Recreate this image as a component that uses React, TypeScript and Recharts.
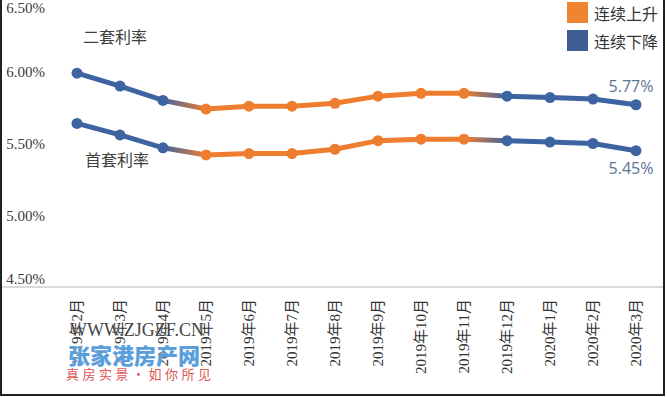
import React from 'react'
import { LineChart, Line, XAxis, YAxis, LabelList } from 'recharts'

const MONTHS = [
  '2019年2月', '2019年3月', '2019年4月', '2019年5月', '2019年6月', '2019年7月', '2019年8月',
  '2019年9月', '2019年10月', '2019年11月', '2019年12月', '2020年1月', '2020年2月', '2020年3月',
]
// 二套利率 (%)
const SECOND_RATE = [5.99, 5.9, 5.8, 5.74, 5.76, 5.76, 5.78, 5.83, 5.85, 5.85, 5.83, 5.82, 5.81, 5.77]
// 首套利率 (%)
const FIRST_RATE = [5.64, 5.56, 5.47, 5.42, 5.43, 5.43, 5.46, 5.52, 5.53, 5.53, 5.52, 5.51, 5.5, 5.45]
// which colour each month's point gets
const TREND = ['down', 'down', 'down', 'up', 'up', 'up', 'up', 'up', 'up', 'up', 'down', 'down', 'down', 'down']
const Y_TICKS = [4.5, 5, 5.5, 6, 6.5]

const LEGEND = [
  { key: 'up', label: '连续上升' },
  { key: 'down', label: '连续下降' },
]

const COLORS: Record<string, string> = { up: '#ee7d2f', down: '#3d64a0' }
const LEGEND_COLORS: Record<string, string> = { up: '#f0852f', down: '#3e5f94' }

const data = MONTHS.map((month, i) => ({
  month,
  second: SECOND_RATE[i],
  first: FIRST_RATE[i],
  trend: TREND[i],
}))

const W = 667
const H = 397

function YTick({ y, payload }: any) {
  const ty = Math.min(Math.max(y, 8), 279)
  return (
    <text x={45} y={ty} dy="0.35em" textAnchor="end" fill="#3a3a3a"
      style={{ fontFamily: '"Liberation Serif", serif', fontSize: 15 }}>
      {Number(payload.value).toFixed(2)}%
    </text>
  )
}

function XTick({ x, y, payload }: any) {
  const top = y + 4
  return (
    <text x={x} y={top} dy="0.36em" textAnchor="end" fill="#333"
      transform={`rotate(-90, ${x}, ${top})`}
      style={{ fontFamily: '"Liberation Serif", "Noto Sans CJK SC", serif', fontSize: 15 }}>
      {payload.value}
    </text>
  )
}

function renderDot(props: any) {
  const { cx, cy, index } = props
  return <circle key={index} cx={cx} cy={cy} r={5.5} fill={COLORS[TREND[index]]} />
}

function endLabel(offset: number) {
  return (props: any) => {
    const { x, y, index, value } = props
    if (index !== MONTHS.length - 1) return null
    return (
      <text x={x - 5} y={y + offset} dy="0.35em" textAnchor="middle" fill="#5b7396"
        style={{ fontFamily: '"Open Sans", sans-serif', fontSize: 16 }}>
        {Number(value).toFixed(2)}%
      </text>
    )
  }
}

const cjk = '"Noto Sans CJK SC", sans-serif'

export default function App() {
  const n = TREND.length
  return (
    <div style={{ position: 'absolute', left: 0, top: 0, width: W, height: H, background: '#fff' }}>
      <LineChart width={W} height={H} data={data} margin={{ top: 0, right: 4, left: 0, bottom: 0 }}>
        <defs>
          <linearGradient id="trendStroke" x1="0" y1="0" x2="1" y2="0">
            {TREND.map((t, i) => (
              <stop key={i} offset={i / (n - 1)} stopColor={COLORS[t]} />
            ))}
          </linearGradient>
        </defs>
        <XAxis
          dataKey="month"
          interval={0}
          height={110}
          padding={{ left: 76, right: 27 }}
          axisLine={{ stroke: '#b4b4b4' }}
          tickLine={false}
          tick={<XTick />}
        />
        <YAxis
          width={1}
          domain={[4.5, 6.5]}
          ticks={Y_TICKS}
          interval={0}
          axisLine={false}
          tickLine={false}
          tick={<YTick />}
        />
        <Line
          dataKey="second"
          stroke="url(#trendStroke)"
          strokeWidth={5}
          dot={renderDot}
          activeDot={false}
          isAnimationActive={false}
        >
          <LabelList dataKey="second" content={endLabel(-18)} />
        </Line>
        <Line
          dataKey="first"
          stroke="url(#trendStroke)"
          strokeWidth={5}
          dot={renderDot}
          activeDot={false}
          isAnimationActive={false}
        >
          <LabelList dataKey="first" content={endLabel(18)} />
        </Line>
      </LineChart>

      <div style={{ position: 'absolute', left: 83, top: 24, fontFamily: cjk, fontSize: 16, color: '#404040' }}>
        二套利率
      </div>
      <div style={{ position: 'absolute', left: 85, top: 147, fontFamily: cjk, fontSize: 16, color: '#404040' }}>
        首套利率
      </div>

      <div style={{ position: 'absolute', left: 567, top: 2 }}>
        {LEGEND.map((item) => (
          <div key={item.key} style={{ display: 'flex', alignItems: 'center', height: 21, marginBottom: 7 }}>
            <div style={{ width: 21, height: 21, background: LEGEND_COLORS[item.key], marginRight: 6 }} />
            <span style={{ fontFamily: cjk, fontSize: 16, color: '#333' }}>{item.label}</span>
          </div>
        ))}
      </div>

      <div style={{ position: 'absolute', left: 70, top: 320, fontFamily: '"Liberation Serif", serif', fontSize: 18, color: '#444', textShadow: '0 0 2px #fff' }}>
        WWW.ZJGZF.CN
      </div>
      <div style={{ position: 'absolute', left: 68, top: 338, fontFamily: cjk, fontSize: 22, fontWeight: 900, color: '#5a9edc', textShadow: '0 0 2px #fff' }}>
        张家港房产网
      </div>
      <div style={{ position: 'absolute', left: 66, top: 364, fontFamily: cjk, fontSize: 13, color: '#e05656', letterSpacing: 3.5 }}>
        真房实景·如你所见
      </div>

      <div style={{
        position: 'absolute', left: 0, top: 0, width: 665, height: 396, boxSizing: 'border-box',
        borderLeft: '2px solid #222', borderRight: '2px solid #222', borderBottom: '2px solid #222',
        pointerEvents: 'none',
      }} />
    </div>
  )
}
